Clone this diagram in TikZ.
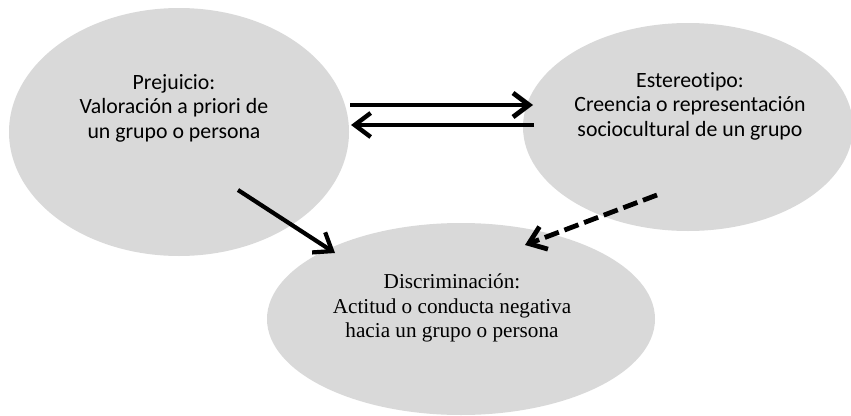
\documentclass[tikz,border=0pt]{standalone}
\usepackage{fontspec}
\setmainfont{Liberation Serif}
\newfontfamily\calfont[Ligatures=NoCommon]{Carlito}
\usetikzlibrary{shapes.geometric,arrows.meta}
\definecolor{ellgray}{HTML}{D9D9D9}
\tikzset{
  blob/.style={ellipse, fill=ellgray, draw=none, inner sep=0pt},
  sanstext/.style={align=center, font=\calfont\fontsize{21.8}{24.5}\selectfont, text=black},
  seriftext/.style={align=center, font=\fontsize{21.2}{24.5}\selectfont, text=black},
  barb/.style={-{Straight Barb[length=16pt,width=24pt]}, line width=4.3pt},
}
\begin{document}
\begin{tikzpicture}[x=1pt,y=-1pt]
\useasboundingbox (0,0) rectangle (851,415);
\begin{scope}
\clip (0,0) rectangle (851,415);
\node[blob, minimum width=340pt, minimum height=248pt] (L) at (179,132) {};
\node[blob, minimum width=330pt, minimum height=208pt] (R) at (688,127) {};
\node[blob, minimum width=388pt, minimum height=192pt] (B) at (461,319) {};
\end{scope}
\node[sanstext] (Lt) at (174,108) {Prejuicio:\\Valoración a priori de\\un grupo o persona};
\node[sanstext] (Rt) at (690,106) {Estereotipo:\\Creencia o representación\\sociocultural de un grupo};
\node[seriftext] (Bt) at (452,308) {Discriminación:\\Actitud o conducta negativa\\hacia un grupo o persona};
\coordinate (a1s) at (350,105);
\coordinate (a1e) at (533,105);
\coordinate (a2s) at (534,125);
\coordinate (a2e) at (351,125);
\coordinate (a3s) at (238,190);
\coordinate (a3e) at (335,253);
\coordinate (a4s) at (657,195);
\coordinate (a4e) at (525,245);
\draw[barb, line width=4.8pt] (a1s) -- (a1e);
\draw[barb, line width=4.4pt] (a2s) -- (a2e);
\draw[barb, line width=4.2pt] (a3s) -- (a3e);
\draw[barb, line width=4.8pt, dash pattern=on 15pt off 6pt] (a4s) -- (a4e);
\end{tikzpicture}
\end{document}
